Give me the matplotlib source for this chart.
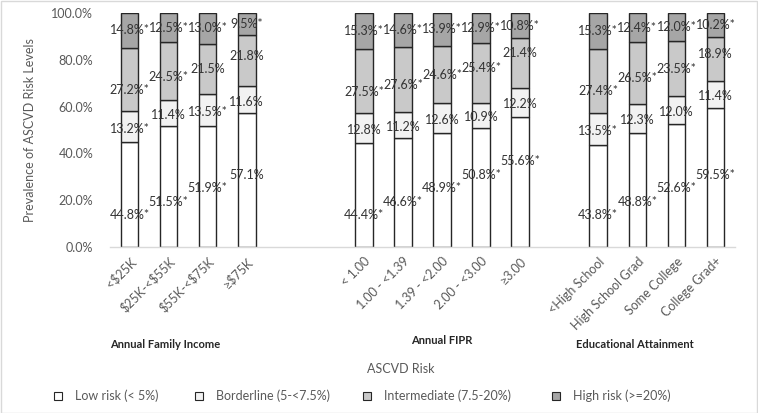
import matplotlib
matplotlib.use("Agg")
import matplotlib.pyplot as plt
from matplotlib.patches import Rectangle
import numpy as np

plt.rcParams['font.family'] = ['Lato', 'DejaVu Sans']

# ---- data ----
categories = ["<$25K", "$25K-<$55K", "$55K-<$75K", "\u2265$75K",
              "< 1.00", "1.00 - <1.39", "1.39 - <2.00", "2.00 - <3.00", "\u22653.00",
              "<High School", "High School Grad", "Some College", "College Grad+"]
groups = ["Annual Family Income", "Annual FIPR", "Educational Attainment"]
group_sizes = [4, 5, 4]

low = [44.8, 51.5, 51.9, 57.1, 44.4, 46.6, 48.9, 50.8, 55.6, 43.8, 48.8, 52.6, 59.5]
low_star = [1, 1, 1, 0, 1, 1, 1, 1, 1, 1, 1, 1, 1]
border = [13.2, 11.4, 13.5, 11.6, 12.8, 11.2, 12.6, 10.9, 12.2, 13.5, 12.3, 12.0, 11.4]
border_star = [1, 0, 1, 0, 0, 0, 0, 0, 0, 1, 0, 0, 0]
inter = [27.2, 24.5, 21.5, 21.8, 27.5, 27.6, 24.6, 25.4, 21.4, 27.4, 26.5, 23.5, 18.9]
inter_star = [1, 1, 0, 0, 1, 1, 1, 1, 0, 1, 1, 1, 0]
high = [14.8, 12.5, 13.0, 9.5, 15.3, 14.6, 13.9, 12.9, 10.8, 15.3, 12.4, 12.0, 10.2]
high_star = [1, 1, 1, 1, 1, 1, 1, 1, 1, 1, 1, 1, 1]

series_names = ["Low risk (< 5%)", "Borderline (5-<7.5%)", "Intermediate (7.5-20%)", "High risk (>=20%)"]
colors = ["#ffffff", "#f2f2f2", "#c9c9c9", "#a6a6a6"]

# ---- layout ----
W, H = 758, 413
fig = plt.figure(figsize=(W / 100, H / 100), dpi=100)
ax = fig.add_axes([110 / W, 1 - 247 / H, (735 - 110) / W, (247 - 13) / H])

gaps = [2, 1]
pos = []
idx_in_group = []
p = 0
for g, n in enumerate(group_sizes):
    for i in range(n):
        pos.append(p)
        idx_in_group.append(i)
        p += 1
    if g < len(gaps):
        p += gaps[g]
pos = np.array(pos, dtype=float)
idx_in_group = np.array(idx_in_group)

vals = [np.array(low), np.array(border), np.array(inter), np.array(high)]
stars = [low_star, border_star, inter_star, high_star]
bw = 0.45
bottom = np.zeros(len(pos))
label_color = "#333333"
for k, (v, c) in enumerate(zip(vals, colors)):
    ax.bar(pos, v / 100, bw, bottom=bottom / 100, color=c, edgecolor="#262626", linewidth=1.0, zorder=2)
    for j in range(len(pos)):
        txt = f"{v[j]:.1f}%" + ("*" if stars[k][j] else "")
        if k == 0:
            y = 13.5 + 5.8 * idx_in_group[j]
        elif k == 2:
            y = bottom[j] + v[j] / 2 - 4.5 + 2.2 * idx_in_group[j]
        elif k == 1:
            y = bottom[j] + v[j] / 2 - 0.8
        else:
            y = bottom[j] + v[j] / 2
        ax.text(pos[j], y / 100, txt, ha="center", va="center", fontsize=9,
                color=label_color, zorder=3)
    bottom = bottom + v

ax.set_xlim(-0.5, pos[-1] + 0.5)
ax.set_ylim(0, 1.0)
yt = np.arange(0, 1.01, 0.2)
ax.set_yticks(yt)
ax.set_yticklabels([f"{t*100:.1f}%" for t in yt])
ax.tick_params(axis="y", length=0, labelsize=9, labelcolor="#595959", pad=12)
ax.set_xticks(pos)
ax.set_xticklabels(categories, rotation=45, ha="right", rotation_mode="anchor",
                   fontsize=9, color="#595959", parse_math=False)
ax.tick_params(axis="x", length=0, pad=6)
for s in ["top", "right", "left"]:
    ax.spines[s].set_visible(False)
ax.spines["bottom"].set_color("#d9d9d9")
ax.spines["bottom"].set_linewidth(1.0)

fig.text(30 / W, 1 - 130 / H, "Prevalence of ASCVD Risk Levels", rotation=90,
         ha="center", va="center", fontsize=9, color="#595959")

group_centers_px = [(165, 345), (442, 341), (635, 345)]
for name, (gx, gy) in zip(groups, group_centers_px):
    fig.text(gx / W, 1 - gy / H, name, ha="center", va="center", fontsize=8,
             fontweight="bold", color="#262626")

fig.text(401 / W, 1 - 369 / H, "ASCVD Risk", ha="center", va="center", fontsize=9, color="#595959")

leg_x = [58, 199, 367, 556]
for name, c, lx in zip(series_names, colors, leg_x):
    fig.patches.append(Rectangle(((lx - 4) / W, 1 - (396 + 4) / H), 8 / W, 8 / H,
                                 transform=fig.transFigure, facecolor=c,
                                 edgecolor="#262626", linewidth=0.8))
    fig.text((lx + 17) / W, 1 - 396 / H, name, ha="left", va="center", fontsize=9, color="#595959")

fig.patches.append(Rectangle((0.5 / W, 0.5 / H), 1 - 1.5 / W, 1 - 1.5 / H, transform=fig.transFigure,
                             facecolor="none", edgecolor="#d9d9d9", linewidth=1))

fig.savefig("out.png", dpi=100)
